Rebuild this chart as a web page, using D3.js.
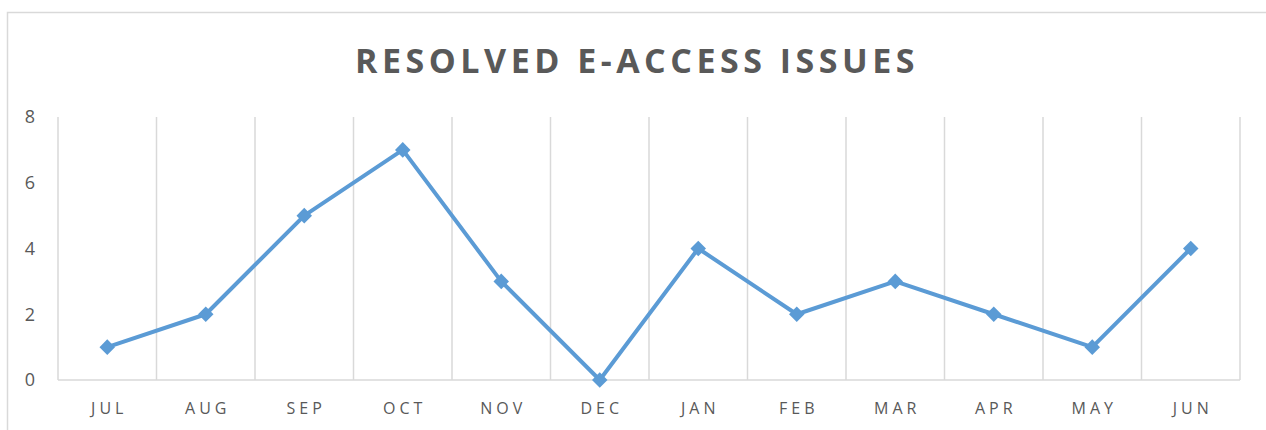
<!DOCTYPE html>
<html>
<head>
<meta charset="utf-8">
<script src="https://cdn.jsdelivr.net/npm/d3@7"></script>
<style>
  body { margin: 0; background: #fff; }
  svg { display: block; font-family: "Open Sans", "Liberation Sans", sans-serif; }
</style>
</head>
<body>
<svg width="1266" height="430"></svg>
<script>
var months = ["JUL", "AUG", "SEP", "OCT", "NOV", "DEC", "JAN", "FEB", "MAR", "APR", "MAY", "JUN"];
var resolved = [1, 2, 5, 7, 3, 0, 4, 2, 3, 2, 1, 4];
var yTicks = [0, 2, 4, 6, 8];

var svg = d3.select("svg");
var plotLeft = 58, plotRight = 1240, plotTop = 117, plotBottom = 380;

// chart frame (top and left edges visible)
svg.append("path")
  .attr("d", "M7.5,440 V12.5 H1270")
  .attr("fill", "none")
  .attr("stroke", "#d9d9d9")
  .attr("stroke-width", 1.5);

svg.append("text")
  .attr("x", 637)
  .attr("y", 73)
  .attr("text-anchor", "middle")
  .attr("fill", "#595959")
  .style("font-size", "34px")
  .style("font-weight", "bold")
  .style("letter-spacing", "4.5px")
  .text("RESOLVED E-ACCESS ISSUES");

var x = d3.scaleBand().domain(months).range([plotLeft, plotRight]);
var y = d3.scaleLinear().domain([0, 8]).range([plotBottom, plotTop]);

// vertical gridlines at category boundaries
var edges = months.map(function(m) { return x(m); }).concat([plotRight]);
svg.append("g").selectAll("line").data(edges).enter().append("line")
  .attr("x1", function(d) { return d; })
  .attr("x2", function(d) { return d; })
  .attr("y1", plotTop)
  .attr("y2", plotBottom)
  .attr("stroke", "#d9d9d9")
  .attr("stroke-width", 1.5);

// baseline
svg.append("line")
  .attr("x1", plotLeft).attr("x2", plotRight)
  .attr("y1", plotBottom).attr("y2", plotBottom)
  .attr("stroke", "#d9d9d9")
  .attr("stroke-width", 1.5);

// y labels
svg.append("g").selectAll("text").data(yTicks).enter().append("text")
  .attr("x", 30)
  .attr("y", function(d) { return y(d); })
  .attr("dy", "0.35em")
  .attr("text-anchor", "middle")
  .attr("fill", "#595959")
  .style("font-size", "18px")
  .text(function(d) { return d; });

// x labels
svg.append("g").selectAll("text").data(months).enter().append("text")
  .attr("x", function(d) { return x(d) + x.bandwidth() / 2 + 2; })
  .attr("y", 414)
  .attr("text-anchor", "middle")
  .attr("fill", "#595959")
  .style("font-size", "16px")
  .style("letter-spacing", "4px")
  .text(function(d) { return d; });

var line = d3.line()
  .x(function(d, i) { return x(months[i]) + x.bandwidth() / 2; })
  .y(function(d) { return y(d); });

svg.append("path")
  .datum(resolved)
  .attr("d", line)
  .attr("fill", "none")
  .attr("stroke", "#5b9bd5")
  .attr("stroke-width", 4)
  .attr("stroke-linejoin", "round");

svg.append("g").selectAll("path").data(resolved).enter().append("path")
  .attr("d", d3.symbol().type(d3.symbolSquare).size(121))
  .attr("transform", function(d, i) {
    return "translate(" + (x(months[i]) + x.bandwidth() / 2) + "," + y(d) + ") rotate(45)";
  })
  .attr("fill", "#5b9bd5");
</script>
</body>
</html>
